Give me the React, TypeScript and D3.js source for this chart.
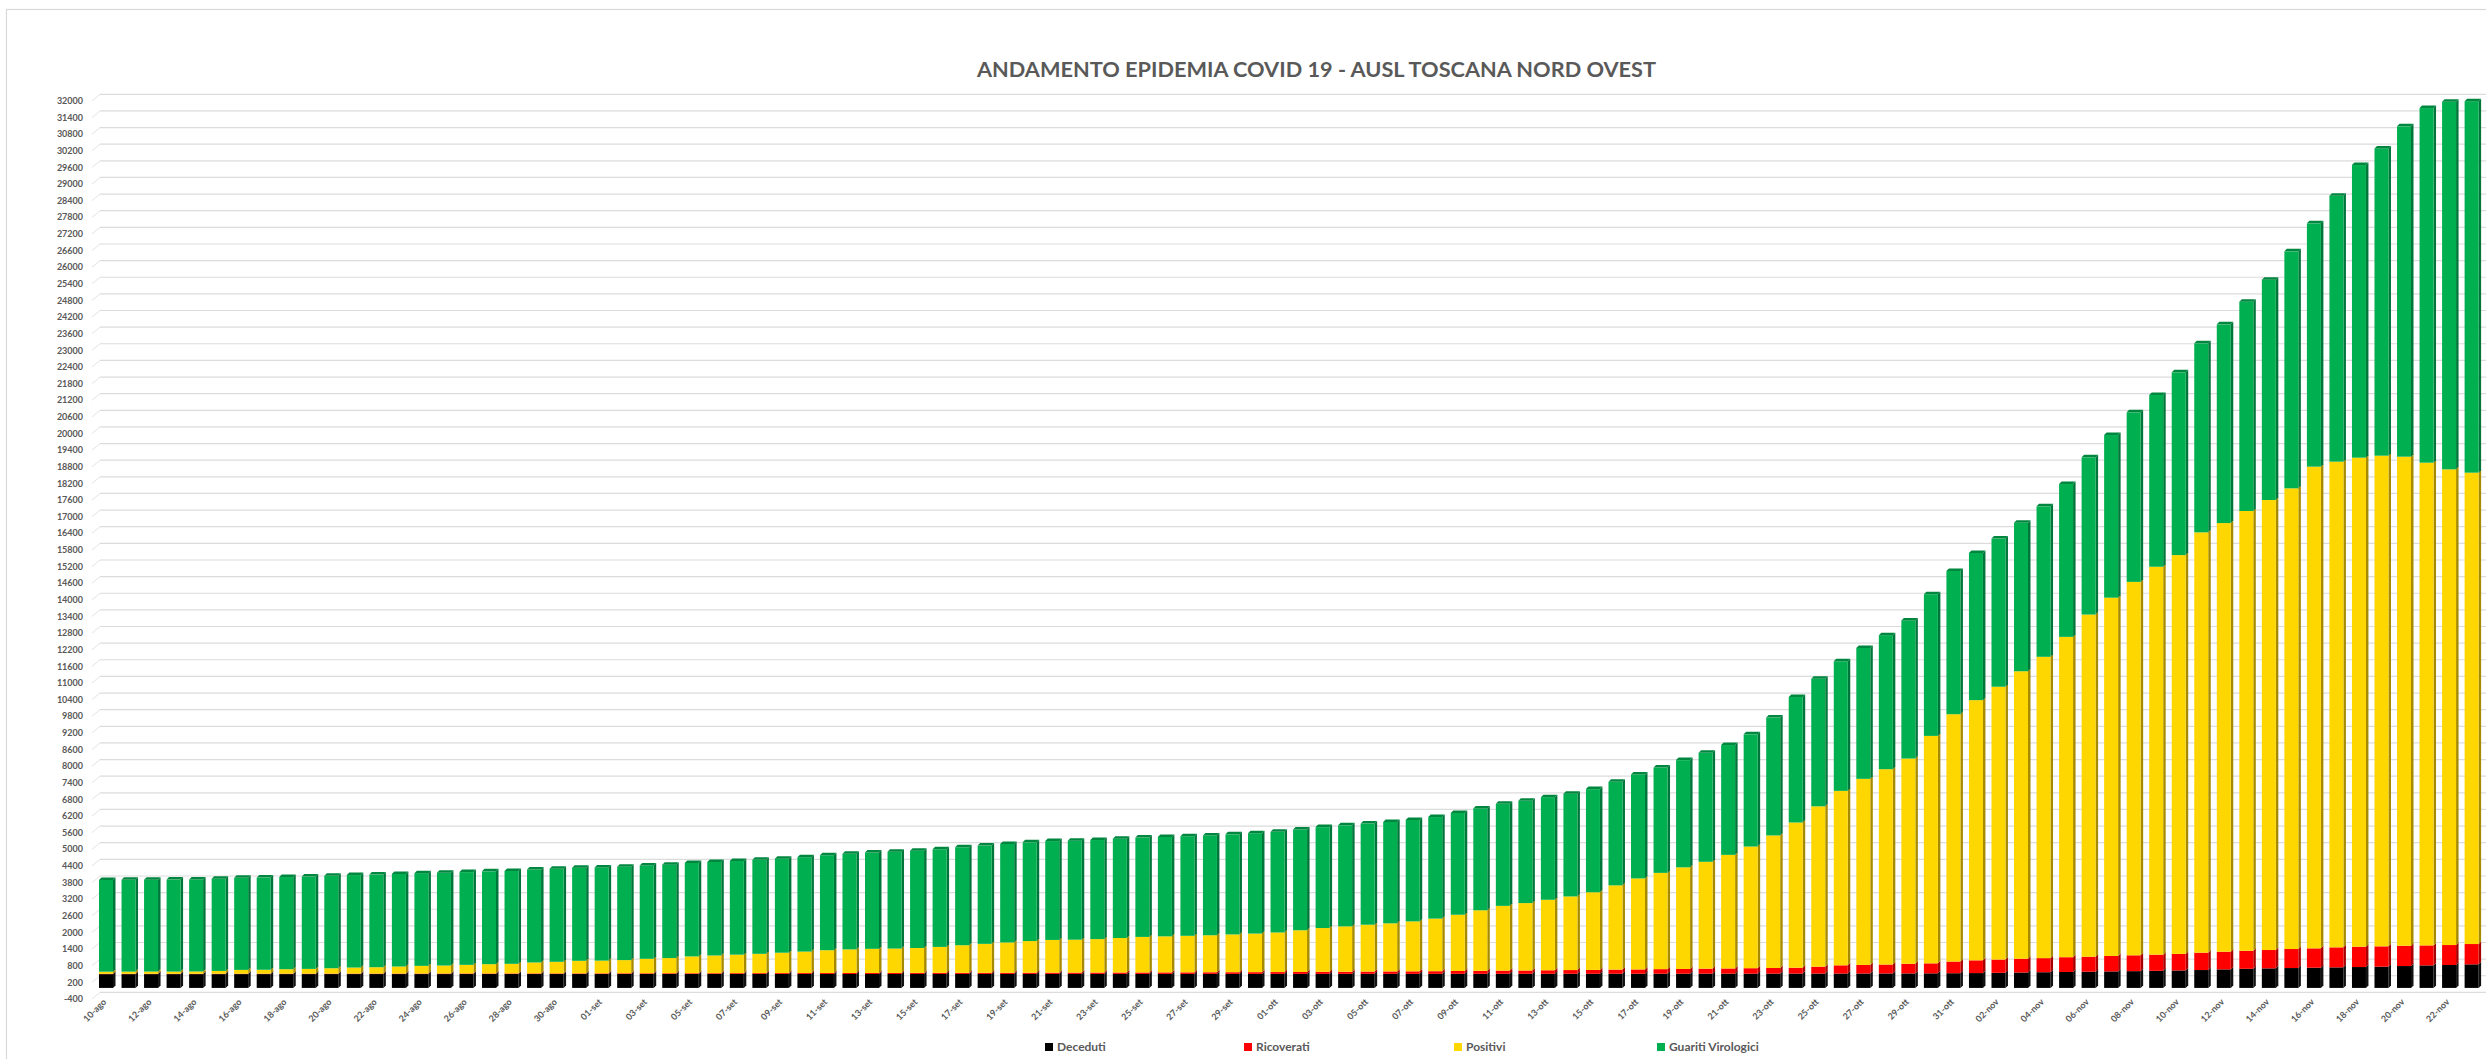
import React from "react";
import * as d3 from "d3";

// Categories: one bar per day, 10 August - 23 November
const categorie: string[] = [
  "10-ago", "11-ago", "12-ago", "13-ago", "14-ago", "15-ago", "16-ago", "17-ago", "18-ago", "19-ago", "20-ago",
  "21-ago", "22-ago", "23-ago", "24-ago", "25-ago", "26-ago", "27-ago", "28-ago", "29-ago", "30-ago", "31-ago",
  "01-set", "02-set", "03-set", "04-set", "05-set", "06-set", "07-set", "08-set", "09-set", "10-set",
  "11-set", "12-set", "13-set", "14-set", "15-set", "16-set", "17-set", "18-set", "19-set", "20-set",
  "21-set", "22-set", "23-set", "24-set", "25-set", "26-set", "27-set", "28-set", "29-set", "30-set",
  "01-ott", "02-ott", "03-ott", "04-ott", "05-ott", "06-ott", "07-ott", "08-ott", "09-ott", "10-ott",
  "11-ott", "12-ott", "13-ott", "14-ott", "15-ott", "16-ott", "17-ott", "18-ott", "19-ott", "20-ott",
  "21-ott", "22-ott", "23-ott", "24-ott", "25-ott", "26-ott", "27-ott", "28-ott", "29-ott", "30-ott", "31-ott",
  "01-nov", "02-nov", "03-nov", "04-nov", "05-nov", "06-nov", "07-nov", "08-nov", "09-nov", "10-nov",
  "11-nov", "12-nov", "13-nov", "14-nov", "15-nov", "16-nov", "17-nov", "18-nov", "19-nov", "20-nov",
  "21-nov", "22-nov", "23-nov",
];

const deceduti: number[] = [
  // ago
  497, 497, 498, 498, 498, 498, 499, 499, 499, 499, 500, 500, 500, 500, 500, 500, 501, 501, 501, 501, 501, 501,
  // set
  501, 502, 502, 502, 502, 502, 502, 502, 503, 503, 503, 503, 503, 503, 504, 504, 504, 504, 504, 504,
  505, 505, 505, 505, 505, 505, 505, 506, 506, 506,
  // ott
  506, 506, 506, 507, 507, 507, 507, 508, 508, 508, 509, 509, 509, 510, 510, 511, 511, 512, 512, 513,
  514, 514, 515, 516, 517, 518, 519, 521, 523, 526, 530,
  // nov
  535, 545, 556, 566, 575, 585, 595, 605, 617, 630, 645, 668, 690, 705, 717, 729, 741, 753, 766, 789,
  812, 826, 850,
];

const ricoverati: number[] = [
  12, 12, 11, 11, 12, 13, 13, 14, 14, 15, 15, 16, 17, 17, 18, 19, 20, 20, 21, 22, 22, 23,
  24, 25, 26, 27, 27, 28, 30, 31, 32, 33, 34, 35, 36, 37, 38, 40, 41, 42, 43, 45,
  46, 48, 50, 51, 53, 55, 57, 59, 61, 63,
  66, 69, 75, 77, 83, 88, 91, 95, 103, 107, 115, 119, 127, 134, 139, 149, 155, 165, 171, 181,
  187, 197, 203, 211, 248, 297, 310, 322, 347, 360, 421,
  460, 478, 496, 508, 533, 540, 558, 571, 583, 596, 626, 638, 650, 662, 686, 698, 722, 734, 734, 733,
  721, 721, 733,
];

const positivi: number[] = [
  76, 79, 81, 80, 82, 102, 138, 142, 161, 172, 195, 219, 230, 255, 278, 289, 311, 336, 347, 395, 419, 454,
  460, 476, 523, 547, 608, 640, 668, 697, 735, 774, 823, 852, 871, 880, 898, 936, 995, 1044, 1093, 1141,
  1179, 1187, 1205, 1244, 1282, 1300, 1318, 1335, 1363, 1391,
  1428, 1505, 1579, 1636, 1690, 1735, 1802, 1897, 2029, 2185, 2336, 2432, 2544, 2656, 2801, 3040, 3284, 3473, 3667, 3856,
  4099, 4389, 4782, 5241, 5786, 6294, 6714, 7047, 7404, 8206, 8923,
  9387, 9843, 10372, 10871, 11556, 12345, 12925, 13472, 13994, 14389, 15164, 15464, 15865, 16235, 16620, 17378,
  17522, 17642, 17701, 17643, 17416, 17161, 17005,
];

const guariti: number[] = [
  3310, 3312, 3315, 3318, 3320, 3322, 3322, 3324, 3326, 3329, 3333, 3336, 3340, 3341, 3344, 3345, 3346, 3348, 3352, 3354, 3357, 3360,
  3362, 3365, 3368, 3370, 3372, 3376, 3380, 3390, 3393, 3405, 3425, 3450, 3475, 3495, 3510, 3522, 3533, 3544, 3555, 3562,
  3568, 3571, 3575, 3580, 3584, 3588, 3592, 3600, 3610, 3620,
  3630, 3634, 3641, 3645, 3649, 3656, 3660, 3664, 3671, 3676, 3681, 3689, 3701, 3709, 3722, 3734, 3752, 3800, 3868, 3931,
  3962, 4048, 4252, 4526, 4600, 4675, 4724, 4836, 4985, 5110, 5171,
  5308, 5344, 5356, 5428, 5514, 5671, 5868, 6116, 6195, 6592, 6818, 7168, 7551, 7947, 8549, 8777,
  9595, 10557, 11086, 11916, 12793, 13262, 13402,
];

const serieNomi: string[] = ["Deceduti", "Ricoverati", "Positivi", "Guariti Virologici"];
const titolo = "ANDAMENTO EPIDEMIA COVID 19 - AUSL TOSCANA NORD OVEST";

const width = 2486;
const height = 1059;
const font = "Lato, 'Open Sans', sans-serif";
const grigio = "#595959";

// front, side, top face colours per series
const colori = {
  front: ["#000000", "#ff0000", "#ffd700", "#00b050"],
  side: ["#111111", "#a80000", "#a68b00", "#00763a"],
  top: ["#222222", "#c00000", "#c9aa00", "#00873f"],
};

const legendaX = [1045, 1244, 1454, 1657];

const App: React.FC = () => {
  const keys = ["deceduti", "ricoverati", "positivi", "guariti"];
  const table = categorie.map((c, i) => ({
    categoria: c,
    deceduti: deceduti[i],
    ricoverati: ricoverati[i],
    positivi: positivi[i],
    guariti: guariti[i],
  }));
  const stacked = d3.stack<any>().keys(keys)(table);

  const xScale = d3.scaleBand<string>()
    .domain(categorie)
    .range([99, 2478.6])
    .paddingInner(0.379)
    .paddingOuter(0);
  const bw = xScale.bandwidth();

  const yScale = d3.scaleLinear().domain([-400, 32000]).range([999, 100.9]);
  const ticks = d3.range(-400, 32001, 600);

  // 3D offsets: bar depth and back wall
  const dx = 2.5;
  const dy = -2.5;
  const wallX = 100;
  const wallDy = -6.6;

  return (
    <svg
      width={width}
      height={height}
      style={{ position: "absolute", left: 0, top: 0, background: "#fff" }}
    >
      <rect x={0} y={0} width={width} height={height} fill="#fff" />
      {/* chart frame */}
      <rect x={6.5} y={9.5} width={2520} height={1100} fill="none" stroke="#d9d9d9" strokeWidth={1.2} />

      {/* title */}
      <text
        x={1316.5}
        y={77}
        textAnchor="middle"
        fontFamily={font}
        fontWeight={700}
        fontSize={20}
        fill={grigio}
        textLength={679}
        lengthAdjust="spacingAndGlyphs"
      >
        {titolo}
      </text>

      {/* back wall gridlines */}
      <g>
        {ticks.map(t => (
          <g key={`grid-${t}`}>
            <line x1={92} y1={yScale(t)} x2={wallX} y2={yScale(t) + wallDy} stroke="#e3e3e3" strokeWidth={1} />
            <line x1={wallX} y1={yScale(t) + wallDy} x2={2486} y2={yScale(t) + wallDy} stroke="#dcdcdc" strokeWidth={1.2} />
          </g>
        ))}
      </g>

      {/* y labels */}
      <g>
        {ticks.map(t => (
          <text
            key={`yl-${t}`}
            x={83}
            y={yScale(t)}
            dy="0.35em"
            textAnchor="end"
            fontFamily={font}
            fontWeight={700}
            fontSize={9}
            fill={grigio}
          >
            {t}
          </text>
        ))}
      </g>

      {/* bars */}
      <g>
        {categorie.map((c, i) => {
          const x0 = xScale(c)!;
          const last = stacked.length - 1;
          return (
            <g key={`bar-${c}`}>
              {stacked.map((s, k) => {
                const yb = yScale(s[i][0]);
                const yt = yScale(s[i][1]);
                const side = `${x0 + bw},${yt} ${x0 + bw + dx},${yt + dy} ${x0 + bw + dx},${yb + dy} ${x0 + bw},${yb}`;
                return (
                  <g key={s.key}>
                    <polygon points={side} fill={colori.side[k]} />
                    <rect x={x0} y={yt} width={bw} height={Math.max(0, yb - yt)} fill={colori.front[k]} />
                    {k === last && (
                      <polygon
                        points={`${x0},${yt} ${x0 + dx},${yt + dy} ${x0 + bw + dx},${yt + dy} ${x0 + bw},${yt}`}
                        fill={colori.top[k]}
                      />
                    )}
                  </g>
                );
              })}
            </g>
          );
        })}
      </g>

      {/* x labels, every other day */}
      <g>
        {categorie.map((c, i) => {
          if (i % 2 !== 0) return null;
          const ax = xScale(c)! + bw / 2 + 1;
          const ay = 1002.5;
          return (
            <text
              key={`xl-${c}`}
              x={ax}
              y={ay}
              transform={`rotate(-45, ${ax}, ${ay})`}
              textAnchor="end"
              fontFamily={font}
              fontWeight={700}
              fontSize={9}
              fill={grigio}
            >
              {c}
            </text>
          );
        })}
      </g>

      {/* legend */}
      <g>
        {serieNomi.map((n, k) => (
          <g key={`leg-${n}`}>
            <rect x={legendaX[k]} y={1043} width={8} height={8} fill={colori.front[k]} />
            <text
              x={legendaX[k] + 12}
              y={1051}
              fontFamily={font}
              fontWeight={700}
              fontSize={12}
              fill={grigio}
            >
              {n}
            </text>
          </g>
        ))}
      </g>
    </svg>
  );
};

export default App;
